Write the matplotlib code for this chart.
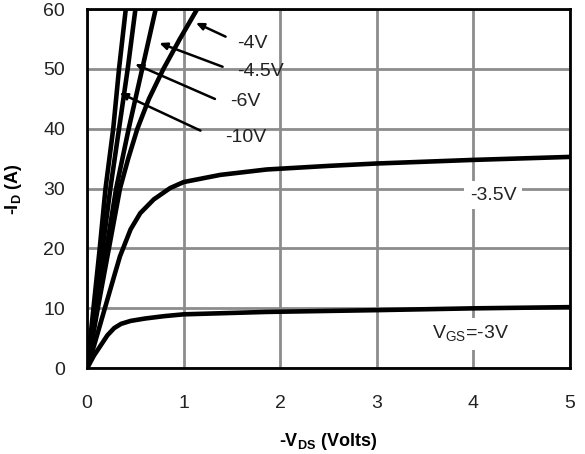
import matplotlib.pyplot as plt

plt.rcParams['font.family'] = ['Liberation Sans', 'DejaVu Sans']
plt.rcParams['mathtext.fontset'] = 'custom'
plt.rcParams['mathtext.rm'] = 'Liberation Sans'
plt.rcParams['mathtext.bf'] = 'Liberation Sans:bold'

# output curves, -Vds (V) vs -Id (A)
vds_10 = [0, 0.065, 0.13, 0.19, 0.27, 0.33, 0.40, 0.44]
id_10 = [0, 10, 20, 30, 40, 50, 60, 66]

vds_6 = [0, 0.08, 0.16, 0.24, 0.33, 0.42, 0.50, 0.55]
id_6 = [0, 10, 20, 30, 40, 50, 60, 66]

vds_45 = [0, 0.10, 0.20, 0.30, 0.43, 0.57, 0.71, 0.78]
id_45 = [0, 10, 20, 30, 40, 50, 60, 65]

vds_4 = [0, 0.11, 0.225, 0.34, 0.425, 0.52, 0.64, 0.79, 0.96, 1.14, 1.25]
id_4 = [0, 10, 20, 30, 35, 40, 45, 50, 55, 60, 63]

vds_35 = [0, 0.07, 0.14, 0.21, 0.28, 0.34, 0.45, 0.55, 0.69, 0.86, 1.0,
          1.38, 1.86, 2.5, 3, 4, 5]
id_35 = [0, 3.7, 7.6, 11.5, 15.4, 18.7, 23.2, 25.9, 28.2, 30.1, 31.1,
         32.3, 33.2, 33.8, 34.2, 34.8, 35.3]

vds_3 = [0, 0.07, 0.14, 0.21, 0.28, 0.35, 0.45, 0.6, 0.8, 1.0, 1.86, 3, 4, 5]
id_3 = [0, 2.1, 3.8, 5.5, 6.7, 7.4, 7.9, 8.3, 8.7, 9.0, 9.4, 9.7, 10.0, 10.2]

# arrow labels: text, text pos, arrow tail, arrow tip
labels = ['-4V', '-4.5V', '-6V', '-10V']
label_xy = [(1.55, 54.3), (1.55, 49.5), (1.48, 44.5), (1.43, 38.5)]
tails = [(1.46, 55.2), (1.43, 50.2), (1.35, 44.8), (1.20, 39.5)]
tips = [(1.10, 57.9), (0.72, 54.5), (0.47, 51.0), (0.31, 46.2)]

fig = plt.figure(figsize=(5.85, 4.54), dpi=100)
ax = fig.add_axes([0.149, 0.189, 0.825, 0.791])

for x, y in [(vds_10, id_10), (vds_6, id_6), (vds_45, id_45),
             (vds_4, id_4), (vds_35, id_35), (vds_3, id_3)]:
    ax.plot(x, y, color='black', lw=3.3, solid_capstyle='round',
            solid_joinstyle='round')

for txt, pos, tail, tip in zip(labels, label_xy, tails, tips):
    ax.annotate('', xy=tip, xytext=tail,
                arrowprops=dict(arrowstyle='-|>,head_length=0.45,head_width=0.2',
                                color='black', lw=1.8))
    ax.text(pos[0], pos[1], txt, fontsize=14, va='center', ha='left',
            color='#222222')

box = dict(facecolor='white', edgecolor='none', pad=4)
ax.text(3.965, 28.9, '-3.5V', fontsize=14, va='center', ha='left',
        color='#222222', bbox=box)
ax.text(3.57, 5.7, r'V$_{\mathregular{GS}}$=-3V', fontsize=14, va='center',
        ha='left', color='#222222', bbox=box)

ax.set_xlim(0, 5)
ax.set_ylim(0, 60)
ax.set_xticks([0, 1, 2, 3, 4, 5])
ax.set_yticks([0, 10, 20, 30, 40, 50, 60])
ax.grid(True, color='#8c8c8c', lw=2)
ax.set_axisbelow(True)
ax.tick_params(length=0, labelsize=14, labelcolor='#222222')
ax.tick_params(axis='x', pad=19)
ax.tick_params(axis='y', pad=16)
for s in ax.spines.values():
    s.set_linewidth(2)

ax.set_xlabel(r'-V$_{\mathbf{DS}}$ (Volts)', fontsize=13, fontweight='bold',
              labelpad=14)
ax.set_ylabel(r'-I$_{\mathbf{D}}$ (A)', fontsize=13, fontweight='bold',
              labelpad=14)

fig.savefig('out.png', dpi=100)
